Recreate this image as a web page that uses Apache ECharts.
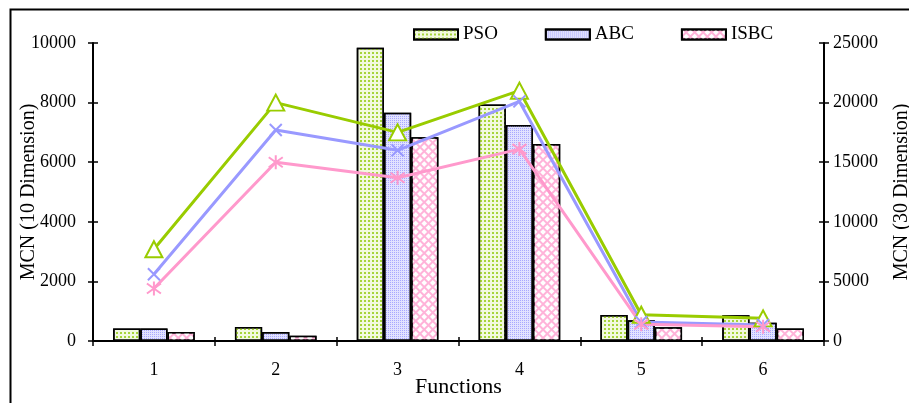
<!DOCTYPE html>
<html>
<head>
<meta charset="utf-8">
<script src="https://cdn.jsdelivr.net/npm/echarts@6/dist/echarts.min.js"></script>
<style>
html,body{margin:0;padding:0;background:#fff;}
#chart{width:909px;height:403px;}
</style>
</head>
<body>
<div id="chart"></div>
<script>
var categories = ['1', '2', '3', '4', '5', '6'];
var seriesNames = ['PSO', 'ABC', 'ISBC'];
var pso10 = [420, 470, 9840, 7940, 870, 860];
var abc10 = [420, 300, 7660, 7250, 700, 610];
var isbc10 = [300, 180, 6840, 6610, 460, 420];
var pso30 = [7700, 20000, 17500, 21000, 2200, 1900];
var abc30 = [5600, 17700, 16000, 20100, 1600, 1350];
var isbc30 = [4400, 15000, 13700, 16100, 1400, 1200];
var leftTicks = [0, 2000, 4000, 6000, 8000, 10000];
var rightTicks = [0, 5000, 10000, 15000, 20000, 25000];

var FONT = 'Liberation Serif';
var chart = echarts.init(document.getElementById('chart'), null, {renderer: 'canvas'});

var greenC = '#99cc00', blueC = '#9999ff', pinkC = '#ff99cc';

function barStyle(fill, decal) {
  return {color: fill, borderColor: '#000', borderWidth: 1.5, decal: decal};
}
var psoDecal = {symbol: 'rect', symbolSize: 1, color: '#a6d43a', dashArrayX: [2, 2], dashArrayY: [2, 2]};
var abcDecal = {symbol: 'rect', symbolSize: 1, color: '#a8a8ff', dashArrayX: [1, 1], dashArrayY: [1, 1]};
var isbcDecal = {symbol: 'rect', symbolSize: 1, color: '#ffffff', dashArrayX: [4, 2], dashArrayY: [4, 2], rotation: Math.PI / 4};

var xSym = 'path://M0,0L10,10M10,0L0,10';
var starSym = 'path://M0,0L10,10M10,0L0,10M5,-2L5,12';

var axisFont = {fontFamily: FONT, fontSize: 18, color: '#000'};

var option = {
  animation: false,
  backgroundColor: '#fff',
  graphic: [{
    type: 'rect', left: 8, top: 7, shape: {width: 960, height: 460},
    style: {fill: 'none', stroke: '#000', lineWidth: 2}, silent: true
  }],
  legend: {
    data: seriesNames,
    left: 408, top: 20,
    itemWidth: 44, itemHeight: 10, itemGap: 47,
    icon: 'rect',
    textStyle: {fontFamily: FONT, fontSize: 19, color: '#000'}
  },
  grid: {left: 93, right: 85, top: 43, bottom: 62, containLabel: false, outerBoundsMode: 'none'},
  xAxis: [{
    type: 'category', data: categories, position: 'bottom',
    name: 'Functions', nameLocation: 'middle', nameGap: 35, nameMoveOverlap: false,
    nameTextStyle: {fontFamily: FONT, fontSize: 22, color: '#000'},
    axisLine: {lineStyle: {color: '#000', width: 2}},
    axisTick: {show: true, length: 5, lineStyle: {color: '#000', width: 1.5}},
    axisLabel: Object.assign({margin: 20}, axisFont),
    splitLine: {show: false}
  }, {
    type: 'category', data: categories, position: 'bottom',
    axisLine: {show: false},
    axisTick: {show: true, inside: true, length: 4, lineStyle: {color: '#000', width: 1.5}},
    axisLabel: {show: false}, splitLine: {show: false}
  }],
  yAxis: [{
    type: 'value', min: 0, max: 10000, interval: 2000, position: 'left',
    name: 'MCN (10 Dimension)', nameLocation: 'middle', nameGap: 54, nameRotate: 90,
    nameMoveOverlap: false,
    nameTextStyle: {fontFamily: FONT, fontSize: 20, color: '#000'},
    axisLine: {show: true, lineStyle: {color: '#000', width: 2}},
    axisTick: {show: true, length: 5, lineStyle: {color: '#000', width: 1.5}},
    axisLabel: Object.assign({margin: 17, formatter: function (v) { return leftTicks.indexOf(v) >= 0 ? String(v) : ''; }}, axisFont),
    splitLine: {show: false}
  }, {
    type: 'value', min: 0, max: 25000, interval: 5000, position: 'right',
    name: 'MCN (30 Dimension)', nameLocation: 'middle', nameGap: 68, nameRotate: 90,
    nameTextStyle: {fontFamily: FONT, fontSize: 20, color: '#000'},
    axisLine: {show: true, lineStyle: {color: '#000', width: 2}},
    axisTick: {show: true, length: 5, lineStyle: {color: '#000', width: 1.5}},
    axisLabel: Object.assign({margin: 9, formatter: function (v) { return rightTicks.indexOf(v) >= 0 ? String(v) : ''; }}, axisFont),
    splitLine: {show: false}
  }, {
    type: 'value', min: 0, max: 10000, interval: 2000, position: 'left',
    axisLine: {show: false},
    axisTick: {show: true, inside: true, length: 5, lineStyle: {color: '#000', width: 1.5}},
    axisLabel: {show: false}, splitLine: {show: false}
  }, {
    type: 'value', min: 0, max: 25000, interval: 5000, position: 'right',
    axisLine: {show: false},
    axisTick: {show: true, inside: true, length: 5, lineStyle: {color: '#000', width: 1.5}},
    axisLabel: {show: false}, splitLine: {show: false}
  }],
  series: [
    {name: 'PSO', type: 'bar', yAxisIndex: 0, data: pso10, barGap: '0%', barCategoryGap: '33%',
      itemStyle: barStyle('#f2f9df', psoDecal)},
    {name: 'ABC', type: 'bar', yAxisIndex: 0, data: abc10, barGap: '0%', barCategoryGap: '33%',
      itemStyle: barStyle('#e2e2ff', abcDecal)},
    {name: 'ISBC', type: 'bar', yAxisIndex: 0, data: isbc10, barGap: '0%', barCategoryGap: '33%',
      itemStyle: barStyle('#ffb3d9', isbcDecal)},
    {name: 'PSO30', type: 'line', yAxisIndex: 1, data: pso30, z: 5,
      symbol: 'triangle', symbolSize: [17, 16],
      lineStyle: {color: greenC, width: 3},
      itemStyle: {color: '#fff', borderColor: greenC, borderWidth: 2}},
    {name: 'ABC30', type: 'line', yAxisIndex: 1, data: abc30, z: 5,
      symbol: xSym, symbolSize: 12,
      lineStyle: {color: blueC, width: 3},
      itemStyle: {color: 'rgba(0,0,0,0)', borderColor: blueC, borderWidth: 2}},
    {name: 'ISBC30', type: 'line', yAxisIndex: 1, data: isbc30, z: 5,
      symbol: starSym, symbolSize: 14,
      lineStyle: {color: pinkC, width: 3},
      itemStyle: {color: 'rgba(0,0,0,0)', borderColor: pinkC, borderWidth: 2}}
  ]
};
chart.setOption(option);
</script>
</body>
</html>
